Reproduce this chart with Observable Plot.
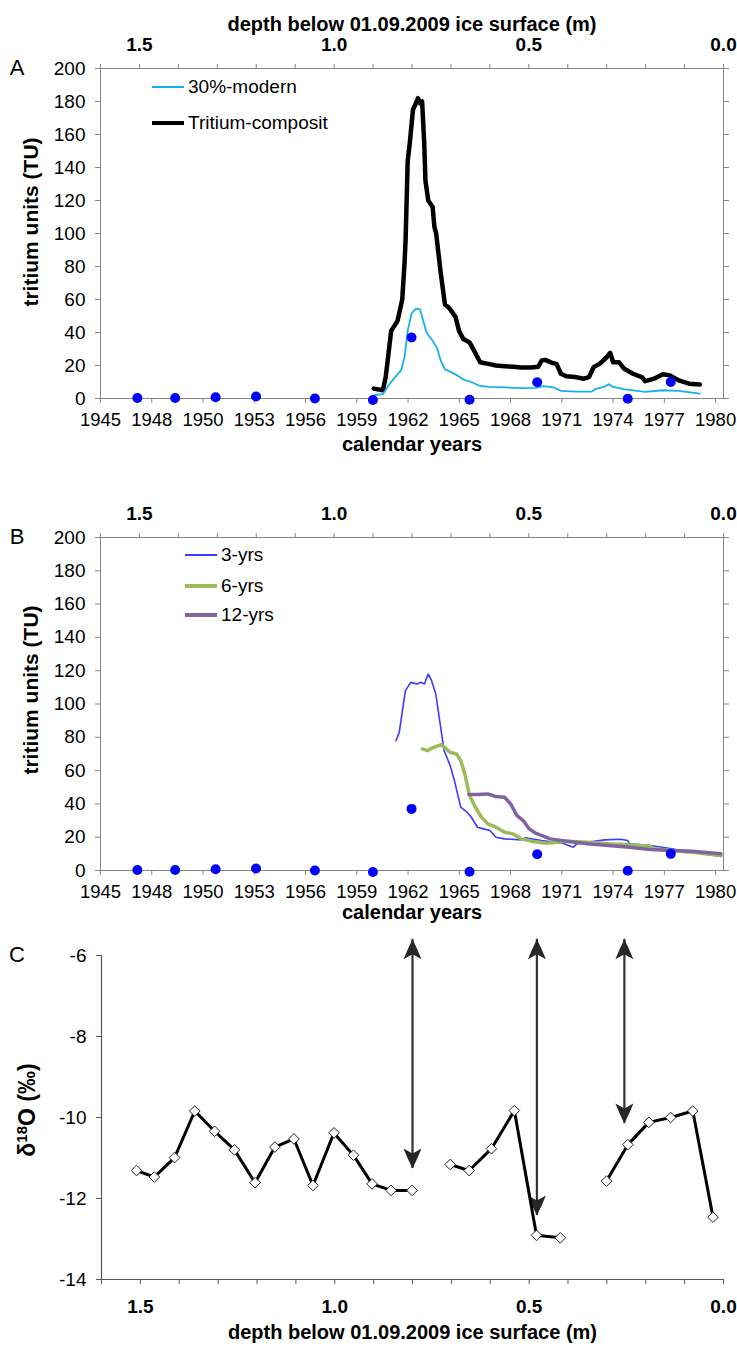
<!DOCTYPE html>
<html><head><meta charset="utf-8">
<script src="https://cdn.jsdelivr.net/npm/d3@7"></script>
<script src="https://cdn.jsdelivr.net/npm/@observablehq/plot@0.6"></script>
<style>
body{margin:0;background:#fff;font-family:"Liberation Sans",Arial,Helvetica,sans-serif;}
#wrap{position:relative;width:737px;height:1349px;overflow:hidden;background:#fff;}
.layer{position:absolute;left:0;}
.letter{position:absolute;font-size:22px;transform:translate(-50%,-50%);line-height:1;}
.ytitle{position:absolute;font-weight:bold;font-size:21px;transform:translate(-50%,-50%) rotate(-90deg);white-space:nowrap;line-height:1;}
.ytitle.d18{font-size:23px;}
.ytitle sup{font-size:15px;vertical-align:8px;line-height:0;}
.leg{position:absolute;height:24px;display:flex;align-items:center;font-size:19px;white-space:nowrap;}
.leg span.ln{display:inline-block;width:32px;margin-right:4px;}
</style></head><body><div id="wrap"></div><script>
// ---------- data ----------
const yearTickLabels = ["1945","1948","1950","1953","1956","1959","1962","1965","1968","1971","1974","1977","1980"];
const yearTicks = [1945, 1947.917, 1950.833, 1953.75, 1956.667, 1959.583, 1962.5, 1965.417, 1968.333, 1971.25, 1974.167, 1977.083, 1980];
const tuTicks = [0, 20, 40, 60, 80, 100, 120, 140, 160, 180, 200];
const depthTicks = [1.6, 1.5, 1.4, 1.3, 1.2, 1.1, 1.0, 0.9, 0.8, 0.7, 0.6, 0.5, 0.4, 0.3, 0.2, 0.1, 0.0];
const depthLabelTicks = [1.5, 1.0, 0.5, 0.0];
const d18Ticks = [-14, -12, -10, -8, -6];

const depthTitle = "depth below 01.09.2009 ice surface (m)";
const yearTitle = "calendar years";
const tuTitle = "tritium units (TU)";

// measured tritium (dots)
const measYears = [1947.1, 1949.25, 1951.55, 1953.85, 1957.2, 1960.5, 1962.7, 1966.0, 1969.85, 1975.0, 1977.45];
const measTU    = [0.3, 0.3, 0.8, 1.2, 0, -0.9, 37, -0.8, 9.8, -0.2, 10];

// Panel A: Tritium-composit
const compYears = [1960.55,1961.07,1961.23,1961.54,1961.9,1962.17,1962.3,1962.36,1962.48,1962.6,1962.78,1962.95,1963.07,1963.18,1963.3,1963.42,1963.49,1963.65,1963.9,1964.0,1964.1,1964.36,1964.6,1964.83,1965.2,1965.4,1965.65,1966.0,1966.36,1966.6,1967.07,1967.5,1968.0,1968.5,1968.95,1969.5,1969.9,1970.1,1970.3,1970.7,1970.95,1971.2,1971.5,1972.0,1972.5,1972.8,1973.06,1973.4,1973.8,1974.0,1974.17,1974.5,1974.8,1975.3,1975.8,1976.0,1976.5,1977.0,1977.4,1977.9,1978.5,1979.1];
const compTU = [6,5,13,41,47,60,82,96,144,155,175,179,182,179,180,155,132,120,116,104,100,76,57,55,49.5,41,36,34,27,22,21,20,19.6,19.2,18.8,18.8,19.2,23,23.4,21.6,21,15,13.5,13,12,13,19,21,25,27.7,22,22,18,15,13,10.5,12,14.7,14,11,9,8.5];

// Panel A: 30%-modern
const modernYears = [1960.55,1961.07,1961.4,1961.77,1962.1,1962.3,1962.48,1962.7,1962.95,1963.18,1963.42,1963.55,1963.9,1964.13,1964.36,1964.6,1964.95,1965.3,1965.65,1966.1,1966.5,1967.07,1968.0,1968.95,1969.77,1970.2,1970.8,1971.2,1972.0,1972.95,1973.2,1973.65,1973.93,1974.17,1974.83,1976.0,1977.0,1977.9,1979.1];
const modernTU = [2,2.6,8,13,17,25,41,51.5,54.5,54,45,40,35,31,23,17.6,16,14,11.5,10,8,7,6.7,6.3,6.5,7.5,6.7,4.6,4.2,4.2,5.9,7,8.7,7,5.5,4,5,4.6,3];

// Panel B: running means
const y3Years = [1961.82,1962.0,1962.18,1962.35,1962.65,1963.0,1963.25,1963.43,1963.65,1963.84,1964.08,1964.3,1964.55,1964.9,1965.14,1965.5,1965.85,1966.1,1966.45,1966.8,1967.16,1967.5,1968.0,1968.93,1969.17,1970.1,1971.3,1971.9,1972.1,1972.7,1973.67,1974.6,1975.0,1975.1,1976.3,1977.5,1978.65,1980.3];
const y3TU = [78,83,96,108,113,112,113,112,118,114,106,90,72,63,54,38,35,32,26,25,24,20,19,18.4,19.6,18,16.4,14,16,17,18.4,18.8,18,16,15,13,11,8.4];
const y6Years = [1963.32,1963.6,1963.96,1964.38,1964.67,1964.9,1965.26,1965.5,1965.73,1965.97,1966.33,1966.68,1967.04,1967.5,1968.0,1968.46,1968.93,1969.64,1970.36,1971.54,1972.73,1973.9,1975.1,1976.28,1976.5,1977.46,1978.65,1980.3];
const y6TU = [73,72,74,75.6,73,71,70,66,58,46,38,32,28,26,23,22,19,17.4,16.4,17.6,17,16,15.4,14.6,13,12,11,9];
const y12Years = [1965.97,1966.45,1967.04,1967.5,1967.99,1968.34,1968.7,1969.05,1969.4,1969.76,1970.12,1970.59,1971.54,1972.73,1973.9,1975.1,1976.28,1977.46,1978.65,1980.3];
const y12TU = [45.6,45.6,46,44.4,44,40,33,30,25,22.4,21,19,17.6,16,15,14,12.6,12,11.6,10];

// Panel C: d18O vs depth
const d18Depth = [1.51,1.464,1.412,1.36,1.309,1.258,1.205,1.154,1.105,1.056,1.002,0.952,0.904,0.855,0.801, 0.703,0.654,0.597,0.538,0.481,0.42, 0.301,0.246,0.192,0.136,0.079,0.027];
const d18Value = [-11.31,-11.47,-10.99,-9.84,-10.34,-10.8,-11.61,-10.73,-10.53,-11.68,-10.38,-10.93,-11.64,-11.8,-11.8, -11.16,-11.31,-10.77,-9.83,-12.91,-12.97, -11.57,-10.67,-10.12,-10.0,-9.84,-12.46];
const d18Segment = [1,1,1,1,1,1,1,1,1,1,1,1,1,1,1, 2,2,2,2,2,2, 3,3,3,3,3,3];

// Panel C arrows
const arrowDepth = [0.80, 0.48, 0.255];
const arrowTop = [-5.6, -5.6, -5.6];
const arrowBottom = [-11.26, -12.42, -10.15];

// legends
const legendA = ["30%-modern", "Tritium-composit"];
const legendB = ["3-yrs", "6-yrs", "12-yrs"];
const panelLetters = ["A", "B", "C"];

// ---------- build ----------
const W = 737;
const FONT = "'Liberation Sans', Arial, Helvetica, sans-serif";
const axisGray = "#868686";
const baseStyle = {fontFamily: FONT, fontSize: "19px", background: "transparent", overflow: "visible", color: "black"};
const yearDomain = [1945, 1980.45];
const xRange = [100, 723];
const depthDomain = [1.6, 0];
const yearLabelOf = new Map(yearTicks.map((t, i) => [t, yearTickLabels[i]]));

const zip = (xs, ys, kx, ky) => xs.map((x, i) => ({[kx]: x, [ky]: ys[i]}));
const measured = zip(measYears, measTU, "year", "tu");
const comp = zip(compYears, compTU, "year", "tu");
const modern = zip(modernYears, modernTU, "year", "tu");
const s3 = zip(y3Years, y3TU, "year", "tu");
const s6 = zip(y6Years, y6TU, "year", "tu");
const s12 = zip(y12Years, y12TU, "year", "tu");
const d18 = d18Depth.map((d, i) => ({depth: d, value: d18Value[i], segment: d18Segment[i]}));
const arrows = arrowDepth.map((d, i) => ({depth: d, top: arrowTop[i], bottom: arrowBottom[i]}));

const colors = {modern: "#16b0ec", comp: "#000000", s3: "#3c3cff", s6: "#9bbb59", s12: "#8064a2", dot: "#0000ff"};

const wrap = document.getElementById("wrap");
function addLayer(node, top) {
  const d = document.createElement("div");
  d.className = "layer"; d.style.top = top + "px";
  d.appendChild(node); wrap.appendChild(d);
}

function tritiumPanel({height, marginTop, marginBottom, series, titleDy}) {
  return Plot.plot({
    width: W, height, marginTop, marginBottom, marginLeft: 100, marginRight: W - xRange[1],
    x: {domain: yearDomain, range: xRange},
    y: {domain: [0, 200], range: [height - marginBottom, marginTop]},
    style: baseStyle,
    marks: [
      Plot.frame({stroke: axisGray}),
      Plot.axisY({ticks: tuTicks, tickSize: 5, tickPadding: 10, stroke: axisGray, fill: "black", label: null, fontSize: 19}),
      Plot.axisY({anchor: "right", ticks: tuTicks, tickSize: 5, tickFormat: () => "", stroke: axisGray, label: null}),
      Plot.axisX({ticks: yearTicks, tickSize: 5, tickPadding: 9, tickFormat: d => yearLabelOf.get(d), stroke: axisGray, fill: "black", label: null, fontSize: 18.5}),
      Plot.text([yearTitle], {text: d => d, frameAnchor: "bottom", dy: titleDy, fontWeight: "bold", fontSize: 20, fill: "black"}),
      ...series,
      Plot.dot(measured, {x: "year", y: "tu", r: 5, fill: colors.dot, stroke: "none"})
    ]
  });
}

function depthAxis({height, marginTop, marginBottom, title}) {
  const marks = [
    Plot.axisX({anchor: "top", ticks: depthTicks, tickSize: 5, tickFormat: () => "", stroke: axisGray, label: null}),
    Plot.axisX({anchor: "top", ticks: depthLabelTicks, tickSize: 0, tickPadding: 18, tickFormat: d => d.toFixed(1), fontWeight: "bold", fontSize: 19, fill: "black", label: null})
  ];
  if (title) marks.push(Plot.text([title], {text: d => d, frameAnchor: "top", dy: -52, fontWeight: "bold", fontSize: 20, fill: "black"}));
  return Plot.plot({
    width: W, height, marginTop, marginBottom, marginLeft: 100, marginRight: W - xRange[1],
    x: {domain: depthDomain, range: xRange},
    style: baseStyle, marks
  });
}

// Panel A
const A = {top: 0, height: 480, marginTop: 68, marginBottom: 82};
addLayer(tritiumPanel({...A, titleDy: 52, series: [
  Plot.line(comp, {x: "year", y: "tu", stroke: colors.comp, strokeWidth: 4.5, strokeLinejoin: "round"}),
  Plot.line(modern, {x: "year", y: "tu", stroke: colors.modern, strokeWidth: 1.8})
]}), A.top);
addLayer(depthAxis({height: A.height, marginTop: A.marginTop, marginBottom: A.marginBottom, title: depthTitle}), A.top);

// Panel B
const B = {top: 480, height: 460, marginTop: 57, marginBottom: 70};
addLayer(tritiumPanel({...B, titleDy: 48, series: [
  Plot.line(s3, {x: "year", y: "tu", stroke: colors.s3, strokeWidth: 1.6}),
  Plot.line(s6, {x: "year", y: "tu", stroke: colors.s6, strokeWidth: 3.5}),
  Plot.line(s12, {x: "year", y: "tu", stroke: colors.s12, strokeWidth: 3.5})
]}), B.top);
addLayer(depthAxis({height: B.height, marginTop: B.marginTop, marginBottom: B.marginBottom, title: null}), B.top);

// Panel C
const headUp = {draw(ctx, size) {
  const s = Math.sqrt(size / Math.PI) / 10;
  ctx.moveTo(0, 0);
  ctx.quadraticCurveTo(5 * s, 10 * s, 9 * s, 20 * s);
  ctx.lineTo(0, 15 * s);
  ctx.lineTo(-9 * s, 20 * s);
  ctx.quadraticCurveTo(-5 * s, 10 * s, 0, 0);
  ctx.closePath();
}};
const headDown = {draw(ctx, size) {
  const s = Math.sqrt(size / Math.PI) / 10;
  ctx.moveTo(0, 0);
  ctx.quadraticCurveTo(5 * s, -10 * s, 9 * s, -20 * s);
  ctx.lineTo(0, -15 * s);
  ctx.lineTo(-9 * s, -20 * s);
  ctx.quadraticCurveTo(-5 * s, -10 * s, 0, 0);
  ctx.closePath();
}};
const cYDomain = [-14, -6];
const C = {top: 920, height: 429, marginTop: 35, marginBottom: 70};
const cX = [101, 723];
const cAxis = "#595959";
addLayer(Plot.plot({
  width: W, height: C.height, marginTop: C.marginTop, marginBottom: C.marginBottom, marginLeft: cX[0], marginRight: W - cX[1],
  x: {domain: depthDomain, range: cX},
  y: {domain: cYDomain, range: [C.height - C.marginBottom, C.marginTop]},
  style: baseStyle,
  marks: [
    Plot.ruleY([cYDomain[0]], {stroke: cAxis, strokeWidth: 1.2}),
    Plot.ruleX([depthDomain[0]], {y1: cYDomain[0], y2: cYDomain[1], stroke: cAxis, strokeWidth: 1.2}),
    Plot.axisY({ticks: d18Ticks, tickSize: 5, tickPadding: 10, tickFormat: d => String(d), stroke: cAxis, fill: "black", label: null, fontSize: 19}),
    Plot.axisX({ticks: depthTicks, tickSize: 5, tickFormat: () => "", stroke: cAxis, label: null}),
    Plot.axisX({ticks: depthLabelTicks, tickSize: 0, tickPadding: 20, tickFormat: d => d.toFixed(1), fontWeight: "bold", fontSize: 19, fill: "black", label: null}),
    Plot.text([depthTitle], {text: d => d, frameAnchor: "bottom", dy: 59, fontWeight: "bold", fontSize: 20, fill: "black"}),
    Plot.ruleX(arrows, {x: "depth", y1: "top", y2: "bottom", stroke: "#333333", strokeWidth: 2.2}),
    Plot.dot(arrows, {x: "depth", y: "top", symbol: headUp, r: 10, fill: "#262626", stroke: "none"}),
    Plot.dot(arrows, {x: "depth", y: "bottom", symbol: headDown, r: 10, fill: "#262626", stroke: "none"}),
    Plot.line(d18, {x: "depth", y: "value", z: "segment", stroke: "black", strokeWidth: 3}),
    Plot.dot(d18, {x: "depth", y: "value", symbol: "diamond2", r: 4.8, fill: "white", stroke: "#222222", strokeWidth: 1})
  ]
}), C.top);

// HTML annotations: panel letters, y titles, legends
function addDiv(cls, html, left, top) {
  const d = document.createElement("div");
  d.className = cls; d.innerHTML = html;
  d.style.left = left + "px"; d.style.top = top + "px";
  wrap.appendChild(d);
  return d;
}
addDiv("letter", panelLetters[0], 17, 68);
addDiv("letter", panelLetters[1], 17, 537);
addDiv("letter", panelLetters[2], 17, 955);
addDiv("ytitle", tuTitle, 30, 222);
addDiv("ytitle", tuTitle, 30, 690);
addDiv("ytitle d18", "δ<sup>18</sup>O (‰)", 27, 1110);

function legendItem(label, color, width, left, y) {
  addDiv("leg", `<span class="ln" style="height:${width}px;background:${color}"></span>${label}`, left, y - 12);
}
legendItem(legendA[0], colors.modern, 2, 152, 87);
legendItem(legendA[1], colors.comp, 4.5, 152, 123);
legendItem(legendB[0], colors.s3, 2, 185, 555);
legendItem(legendB[1], colors.s6, 3.5, 185, 586);
legendItem(legendB[2], colors.s12, 3.5, 185, 615);
</script></body></html>
